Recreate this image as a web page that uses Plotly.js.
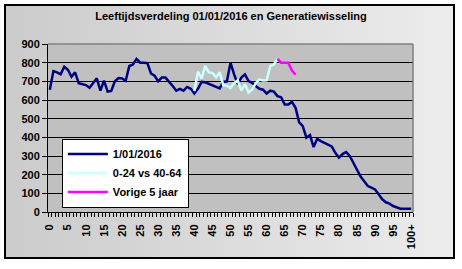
<!DOCTYPE html>
<html><head><meta charset="utf-8">
<script src="https://cdn.plot.ly/plotly-3.0.1.min.js"></script>
<style>
html,body{margin:0;padding:0;background:#fff;}
#wrap{position:relative;width:462px;height:269px;overflow:hidden;}
#frame{position:absolute;left:4px;top:4px;width:451px;height:255px;border:2px solid #000;box-sizing:border-box;background:linear-gradient(to right,#cbcbcb,#ececec);}
#chart{position:absolute;left:0;top:0;width:462px;height:269px;}
</style></head><body>
<div id="wrap"><div id="frame"></div><div id="chart"></div></div>
<script>
const ages = ["0","1","2","3","4","5","6","7","8","9","10","11","12","13","14","15","16","17","18","19",
"20","21","22","23","24","25","26","27","28","29","30","31","32","33","34","35","36","37","38","39",
"40","41","42","43","44","45","46","47","48","49","50","51","52","53","54","55","56","57","58","59",
"60","61","62","63","64","65","66","67","68","69","70","71","72","73","74","75","76","77","78","79",
"80","81","82","83","84","85","86","87","88","89","90","91","92","93","94","95","96","97","98","99","100+"];
const tickLabels = ["0","5","10","15","20","25","30","35","40","45","50","55","60","65","70","75","80","85","90","95","100+"];

const pop2016 = [655,755,748,738,778,762,725,748,690,686,
680,666,688,716,650,703,645,649,700,718,
716,703,782,790,820,800,800,798,742,730,
700,720,720,700,675,650,660,650,670,660,
635,660,697,695,688,680,670,662,697,700,
800,737,685,720,737,701,692,675,660,655,
635,650,645,621,615,576,576,590,558,480,
460,398,412,348,392,380,370,357,351,317,
291,310,321,300,265,225,190,165,139,130,
121,95,68,52,45,32,23,18,18,18,
18];

const genAges = ["40","41","42","43","44","45","46","47","48","49","50","51","52","53","54","55","56","57","58","59","60","61","62","63"];
const genValues = [648,752,715,783,748,745,722,748,680,676,665,690,705,650,685,640,656,690,710,705,706,781,790,820];

const prevAges = ["63","64","65","66","67","68"];
const prevValues = [820,800,800,800,757,735];

const traces = [
  {x: ages, y: pop2016, name: "1/01/2016", type: "scatter", mode: "lines", line: {color: "#000080", width: 2.5}},
  {x: genAges, y: genValues, name: "0-24 vs 40-64", type: "scatter", mode: "lines", line: {color: "#ccffff", width: 2.5}},
  {x: prevAges, y: prevValues, name: "Vorige 5 jaar", type: "scatter", mode: "lines", line: {color: "#ff00ff", width: 2.5}}
];

const fontFam = "Liberation Sans, Arial, sans-serif";
const layout = {
  width: 462, height: 269,
  margin: {l: 48, r: 49, t: 44, b: 57},
  paper_bgcolor: "rgba(0,0,0,0)",
  plot_bgcolor: "#c0c0c0",
  title: {text: "Leeftijdsverdeling 01/01/2016 en Generatiewisseling", font: {family: fontFam, size: 11, color: "#000", weight: "bold"}, x: 0.5, xanchor: "center", y: 0.94, yanchor: "middle", yref: "container"},
  xaxis: {
    type: "category", categoryorder: "array", categoryarray: ages,
    range: [-0.5, 100.5],
    tickmode: "array", tickvals: ages, ticktext: ages.map(a => tickLabels.includes(a) ? a : ""),
    tickson: "boundaries", ticks: "outside", ticklen: 4, tickcolor: "#000", tickwidth: 1,
    ticklabelstandoff: 7,
    tickangle: -90, tickfont: {family: fontFam, size: 11, color: "#000", weight: "bold"},
    showgrid: false, showline: true, linecolor: "#000", linewidth: 1, zeroline: false, fixedrange: true
  },
  yaxis: {
    range: [0, 900], tickmode: "linear", tick0: 0, dtick: 100,
    ticks: "outside", ticklen: 5, tickcolor: "#000",
    tickfont: {family: fontFam, size: 11, color: "#000", weight: "bold"},
    showgrid: true, gridcolor: "#000", gridwidth: 1,
    showline: true, linecolor: "#000", linewidth: 1, zeroline: false, fixedrange: true
  },
  showlegend: true,
  legend: {
    x: 0.038, xanchor: "left", y: 0.232, yanchor: "middle",
    bgcolor: "#ffffff", bordercolor: "#000", borderwidth: 1,
    font: {family: fontFam, size: 11, color: "#000", weight: "bold"},
    itemwidth: 40, tracegroupgap: 0
  },
  shapes: [
    {type: "line", xref: "paper", yref: "paper", x0: 0, x1: 1, y0: 1, y1: 1, line: {color: "#808080", width: 1.5}, layer: "above"},
    {type: "line", xref: "paper", yref: "paper", x0: 1, x1: 1, y0: 0, y1: 1, line: {color: "#808080", width: 1.5}, layer: "above"}
  ]
};
Plotly.newPlot("chart", traces, layout, {displayModeBar: false, staticPlot: true});
</script>
</body></html>
